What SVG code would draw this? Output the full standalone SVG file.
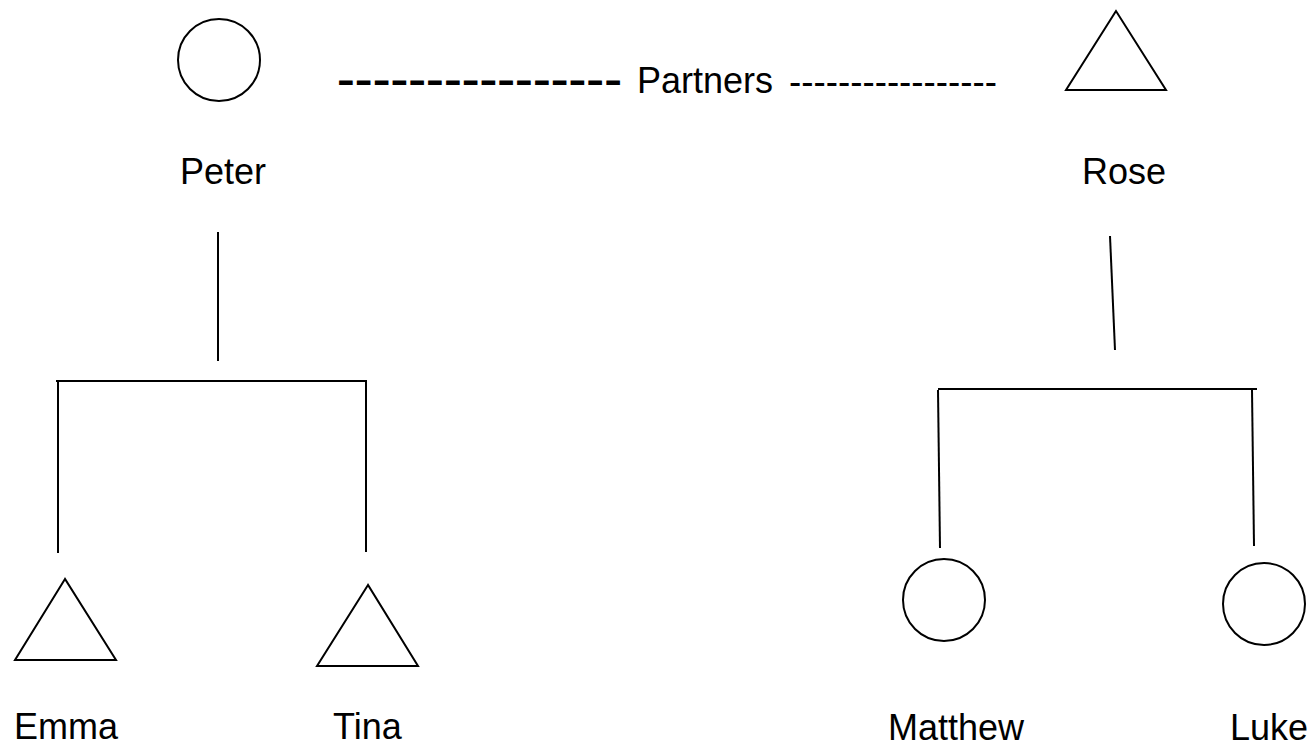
<svg xmlns="http://www.w3.org/2000/svg" width="1316" height="749" viewBox="0 0 1316 749">
<style>
.s{fill:none;stroke:#000;stroke-width:2}
.t{font-family:"Liberation Sans",Arial,sans-serif;font-size:36px;fill:#000}
</style>
<rect width="1316" height="749" fill="#fff"/>
<g id="connectors">
<line class="s" x1="218" y1="232" x2="218" y2="361"/>
<line class="s" x1="56" y1="381" x2="367" y2="381"/>
<line class="s" x1="58" y1="382" x2="58" y2="553"/>
<line class="s" x1="366" y1="382" x2="366" y2="552"/>
<line class="s" x1="1110" y1="236" x2="1115" y2="350"/>
<line class="s" x1="938" y1="389" x2="1257" y2="389"/>
<line class="s" x1="938" y1="390" x2="940" y2="548"/>
<line class="s" x1="1252" y1="390" x2="1254" y2="546"/>
<text class="t" y="93"><tspan x="337" y="92" font-weight="bold" textLength="285" lengthAdjust="spacingAndGlyphs">----------------</tspan><tspan x="637" y="93">Partners</tspan><tspan x="789" y="94" textLength="208" lengthAdjust="spacingAndGlyphs">-----------------</tspan></text>
</g>
<g id="peter"><circle class="s" cx="219" cy="60" r="41"/><text class="t" x="180" y="184">Peter</text></g>
<g id="rose"><polygon class="s" points="1116,11 1066,90 1166,90"/><text class="t" x="1082" y="184">Rose</text></g>
<g id="emma"><polygon class="s" points="65,579 15,660 116,660"/><text class="t" x="14" y="739">Emma</text></g>
<g id="tina"><polygon class="s" points="368,585 317,666 418,666"/><text class="t" x="333" y="739">Tina</text></g>
<g id="matthew"><circle class="s" cx="944" cy="600" r="41"/><text class="t" x="888" y="740">Matthew</text></g>
<g id="luke"><circle class="s" cx="1264" cy="604" r="41"/><text class="t" x="1230" y="740">Luke</text></g>
</svg>
